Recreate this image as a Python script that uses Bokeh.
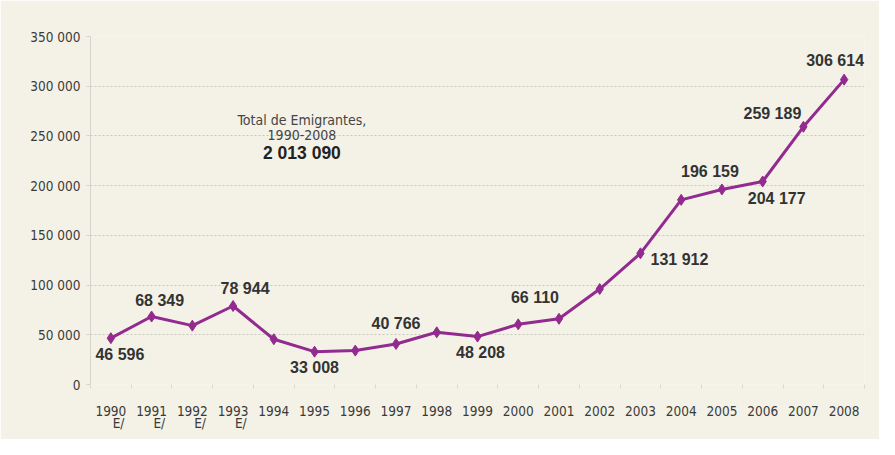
from bokeh.plotting import figure
from bokeh.models import ColumnDataSource, FixedTicker, Label, Range1d
from bokeh.core.properties import value
from bokeh.embed import file_html
from bokeh.resources import INLINE

years = [1990, 1991, 1992, 1993, 1994, 1995, 1996, 1997, 1998, 1999,
         2000, 2001, 2002, 2003, 2004, 2005, 2006, 2007, 2008]
emigrants = [46596, 68349, 59200, 78944, 45500, 33008, 34100, 40766, 52500, 48208,
             60500, 66110, 96000, 131912, 185700, 196159, 204177, 259189, 306614]
NB = "\u00a0"
year_labels = ["1990\n" + NB * 4 + "E/", "1991\n" + NB * 4 + "E/", "1992\n" + NB * 4 + "E/",
               "1993\n" + NB * 4 + "E/", "1994", "1995", "1996",
               "1997", "1998", "1999", "2000", "2001", "2002", "2003", "2004", "2005",
               "2006", "2007", "2008"]
y_ticks = [0, 50000, 100000, 150000, 200000, 250000, 300000, 350000]
y_tick_labels = ["0", "50 000", "100 000", "150 000", "200 000", "250 000", "300 000", "350 000"]
labeled_years = [1990, 1991, 1993, 1995, 1997, 1999, 2001, 2003, 2005, 2006, 2007, 2008]
total_title = "Total de Emigrantes,"
total_period = "1990-2008"
total_value = "2 013 090"

# label pixel offsets (style only)
label_dx = [9, 8, 12, 0, 0, 3, -24, 39, -12, 14, -31, -9]
label_dy = [16, -16, -18, 16, -20, 16, -21, 6, -18, 17, -13, -19]

def fmt(v):
    return f"{v:,}".replace(",", " ")

lab_vals = [emigrants[years.index(y)] for y in labeled_years]
lab_src = ColumnDataSource(dict(x=labeled_years, y=lab_vals,
                                t=[fmt(v) for v in lab_vals],
                                dx=label_dx, dy=label_dy))
src = ColumnDataSource(dict(x=years, y=emigrants))

BG = "#f4f2e7"
NARROW = "'Liberation Sans Narrow', 'Arial Narrow', 'DejaVu Sans Condensed', sans-serif"

p = figure(width=879, height=439, output_backend="svg", toolbar_location=None,
           x_range=Range1d(1989.5, 2008.5), y_range=Range1d(0, 350000),
           min_border_left=90, min_border_right=15, min_border_top=36, min_border_bottom=55)
p.background_fill_color = BG
p.border_fill_color = BG
p.outline_line_color = None

p.line("x", "y", source=src, line_color="#932a8f", line_width=3)
p.scatter("x", "y", source=src, marker="diamond", size=11, color="#932a8f")

p.text("x", "y", text="t", source=lab_src, x_offset="dx", y_offset="dy",
       text_align="center", text_baseline="middle", text_font=value("Liberation Sans"),
       text_font_style="bold", text_font_size="16px", text_color="#333333")

# y axis
p.yaxis.ticker = FixedTicker(ticks=y_ticks)
p.yaxis.major_label_overrides = {t: l for t, l in zip(y_ticks, y_tick_labels)}
p.yaxis.axis_line_color = "#d4d4cc"
p.yaxis.major_tick_line_color = "#d4d4cc"
p.yaxis.major_tick_out = 4
p.yaxis.major_tick_in = 0
p.yaxis.minor_tick_line_color = None
p.yaxis.major_label_standoff = 6
p.yaxis.major_label_text_font = NARROW
p.yaxis.major_label_text_font_size = "13.5px"
p.yaxis.major_label_text_color = "#3a3a3a"

# x axis
p.xaxis.ticker = FixedTicker(ticks=years, minor_ticks=[y + 0.5 for y in years[:-1]] + [1989.5, 2008.5])
p.xaxis.major_label_overrides = {y: l for y, l in zip(years, year_labels)}
p.xaxis.axis_line_color = None
p.xaxis.major_tick_line_color = None
p.xaxis.minor_tick_line_color = "#d8d8d0"
p.xaxis.minor_tick_out = 4
p.xaxis.minor_tick_in = 0
p.xaxis.major_label_standoff = 12
p.xaxis.major_label_text_font = NARROW
p.xaxis.major_label_text_font_size = "13.5px"
p.xaxis.major_label_text_color = "#3a3a3a"
p.xaxis.major_label_text_line_height = 0.8

# grids
p.xgrid.grid_line_color = None
p.ygrid.ticker = FixedTicker(ticks=y_ticks[1:-1])
p.ygrid.grid_line_color = "#c6cbbb"
p.ygrid.grid_line_dash = "2 2"
p.ygrid.grid_line_width = 1

# annotation
p.add_layout(Label(x=1994.69, y=266000, text=total_title, text_align="center",
                   text_baseline="middle", text_font=NARROW, text_font_size="14px",
                   text_color="#444444"))
p.add_layout(Label(x=1994.69, y=251000, text=total_period, text_align="center",
                   text_baseline="middle", text_font=NARROW, text_font_size="14px",
                   text_color="#444444"))
p.add_layout(Label(x=1994.69, y=232500, text=total_value, text_align="center",
                   text_baseline="middle", text_font="Liberation Sans", text_font_style="bold",
                   text_font_size="17.5px", text_color="#222222"))

open("out.html", "w").write(file_html(p, INLINE))
